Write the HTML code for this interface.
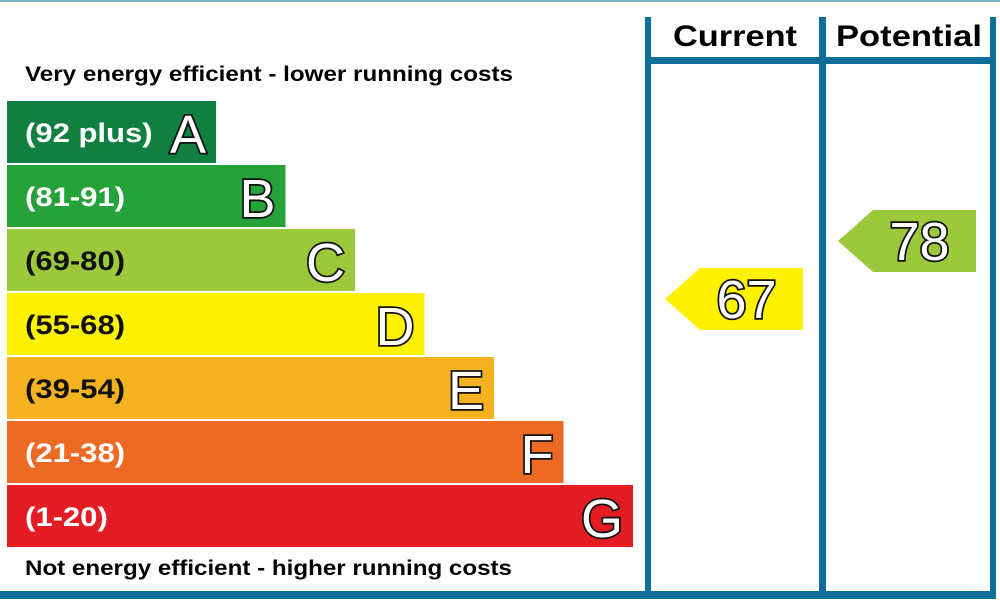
<!DOCTYPE html>
<html><head><meta charset="utf-8"><style>
body{margin:0;background:#fff;width:1000px;height:605px;overflow:hidden;font-family:"Liberation Sans",Arial,sans-serif}
</style></head><body>
<svg width="1000" height="605" viewBox="0 0 1000 605" font-family="Liberation Sans, Arial, sans-serif">
<rect x="0" y="0" width="1000" height="2" fill="#7fb3c8"/>
<g fill="#0d6e99">
<rect x="645" y="17" width="6" height="582"/>
<rect x="819" y="17" width="7" height="582"/>
<rect x="990" y="17" width="6" height="582"/>
<rect x="645" y="57" width="351" height="7"/>
<rect x="0" y="591" width="996" height="8"/>
</g>
<text x="673" y="46" font-size="30" font-weight="bold" textLength="124" lengthAdjust="spacingAndGlyphs">Current</text>
<text x="836" y="46" font-size="30" font-weight="bold" textLength="146" lengthAdjust="spacingAndGlyphs">Potential</text>
<text x="25" y="81" font-size="21" font-weight="bold" textLength="488" lengthAdjust="spacingAndGlyphs">Very energy efficient - lower running costs</text>
<text x="25" y="575" font-size="21" font-weight="bold" textLength="487" lengthAdjust="spacingAndGlyphs">Not energy efficient - higher running costs</text>
<g id="bars"></g>
<g id="arrows"></g>
</svg>
<script>
const bands=["A","B","C","D","E","F","G"];
const ranges=["(92 plus)","(81-91)","(69-80)","(55-68)","(39-54)","(21-38)","(1-20)"];
const colors=["#117f3f","#26a23a","#9cc83c","#fff200","#f4b120","#ec6a24","#e31d23"];
const currentValue=67;
const potentialValue=78;
const lowerBounds=[92,81,69,55,39,21,1];
const ns="http://www.w3.org/2000/svg";
function mk(t,a){const e=document.createElementNS(ns,t);for(const k in a)e.setAttribute(k,a[k]);return e;}
const barTop=101,barStep=64,barH=62;
const g=document.getElementById('bars');
bands.forEach((b,i)=>{
 const y=barTop+i*barStep, w=209+i*69.5;
 const r=mk('rect',{x:7,y:y,width:w,height:barH,fill:colors[i]});
 
 
 g.appendChild(r);
 const t=mk('text',{x:0,y:0,transform:`translate(25,${y+41}) scale(1.15,1)`,'font-size':27,'font-weight':'bold',fill:(i>=2&&i<=4)?'#111':'#fff'});
 t.textContent=ranges[i];
 
 
 g.appendChild(t);
 const l=mk('text',{x:7+w-10,y:y+52,'font-size':54,'text-anchor':'end',fill:'#fff',stroke:'#111','stroke-width':3.5,'paint-order':'stroke'});
 l.textContent=b;
 
 
 g.appendChild(l);
});
function bandIndex(v){for(let i=0;i<lowerBounds.length;i++)if(v>=lowerBounds[i])return i;return 6;}
function valueY(v){return 299-(v-67)*5.27;}
const ag=document.getElementById('arrows');
function arrow(v,x0,x1,name){
 const i=bandIndex(v),cy=valueY(v),h=62,tip=35;
 const p=mk('polygon',{points:`${x0},${cy} ${x0+tip},${cy-h/2} ${x1},${cy-h/2} ${x1},${cy+h/2} ${x0+tip},${cy+h/2}`,fill:colors[i]});
 
 
 ag.appendChild(p);
 const t=mk('text',{x:(x0+tip+x1)/2-5,y:cy+19,'font-size':54,'text-anchor':'middle',fill:'#fff',stroke:'#111','stroke-width':3.5,'paint-order':'stroke'});
 t.textContent=v;
 
 
 ag.appendChild(t);
}
arrow(currentValue,665,803,'current');
arrow(potentialValue,838,976,'potential');
</script>
</body></html>
